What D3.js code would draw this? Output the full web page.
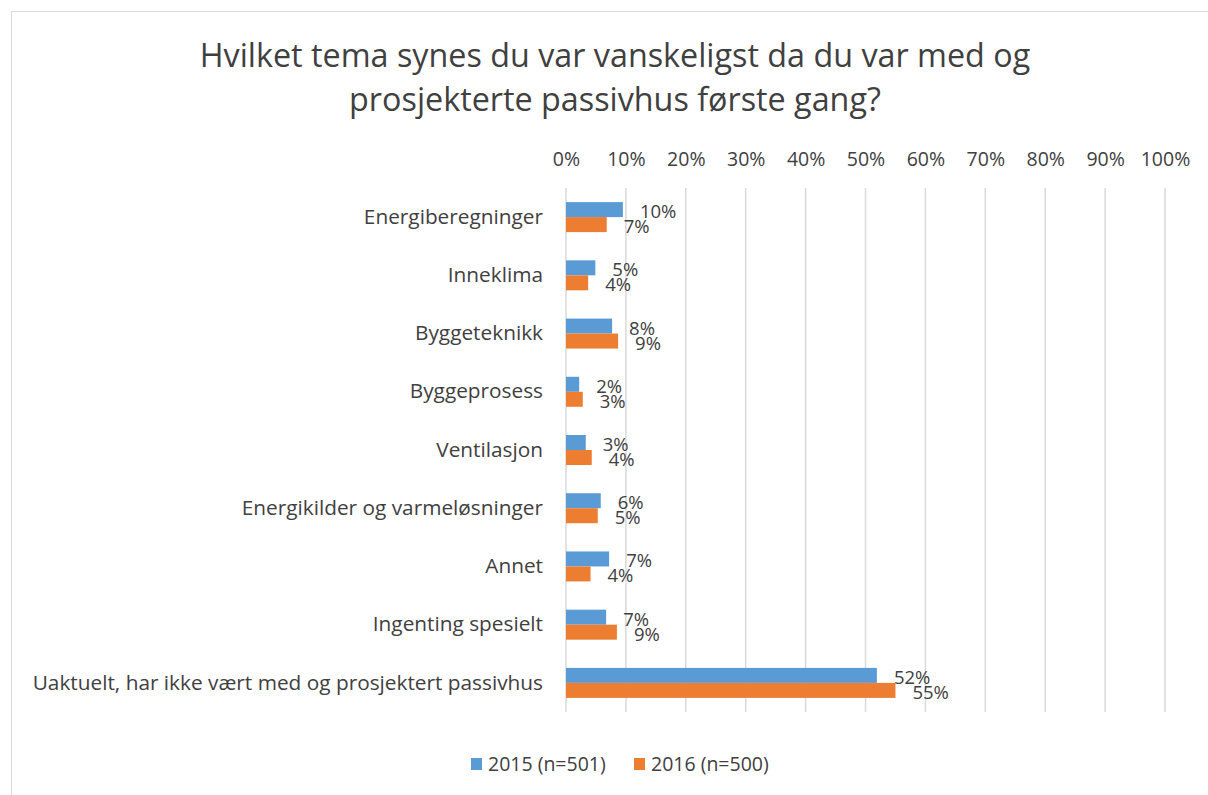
<!DOCTYPE html>
<html>
<head>
<meta charset="utf-8">
<script src="https://cdn.jsdelivr.net/npm/d3@7"></script>
<style>
  body { margin: 0; background: #fff; }
  text { font-family: "Open Sans", sans-serif; fill: #404040; }
</style>
</head>
<body>
<div id="chart"></div>
<script>
const width = 1208;
const height = 795;

const categories = [
  "Energiberegninger",
  "Inneklima",
  "Byggeteknikk",
  "Byggeprosess",
  "Ventilasjon",
  "Energikilder og varmeløsninger",
  "Annet",
  "Ingenting spesielt",
  "Uaktuelt, har ikke vært med og prosjektert passivhus"
];
const values2015 = [9.5, 4.9, 7.7, 2.2, 3.3, 5.8, 7.2, 6.7, 51.9];
const values2016 = [6.8, 3.7, 8.7, 2.8, 4.3, 5.3, 4.1, 8.5, 55.0];
const labels2015 = ["10%", "5%", "8%", "2%", "3%", "6%", "7%", "7%", "52%"];
const labels2016 = ["7%", "4%", "9%", "3%", "4%", "5%", "4%", "9%", "55%"];
const seriesNames = ["2015 (n=501)", "2016 (n=500)"];
const colors = ["#5b9bd5", "#ed7d31"];
const tickValues = [0, 10, 20, 30, 40, 50, 60, 70, 80, 90, 100];

const svg = d3.select("#chart").append("svg")
  .attr("width", width)
  .attr("height", height);

// chart frame
svg.append("rect")
  .attr("x", 11.5).attr("y", 11.5)
  .attr("width", 1220).attr("height", 820)
  .attr("fill", "#fff")
  .attr("stroke", "#d9d9d9");

// title
const title = svg.append("text")
  .attr("text-anchor", "middle")
  .attr("font-size", 32.3);
title.append("tspan").attr("x", 615).attr("y", 67)
  .text("Hvilket tema synes du var vanskeligst da du var med og");
title.append("tspan").attr("x", 615).attr("y", 111)
  .text("prosjekterte passivhus første gang?");

const x = d3.scaleLinear().domain([0, 100]).range([566, 1165]);
const y = d3.scaleBand().domain(categories).range([188, 712])
  .paddingInner(0.485).paddingOuter(0.2425);
const sub = d3.scaleBand().domain([0, 1]).range([0, y.bandwidth()]);

// gridlines
svg.append("g")
  .selectAll("line")
  .data(tickValues)
  .join("line")
  .attr("x1", d => x(d)).attr("x2", d => x(d))
  .attr("y1", 188).attr("y2", 712)
  .attr("stroke", "#d9d9d9")
  .attr("stroke-width", 1.5);

// top axis
const axis = svg.append("g")
  .attr("transform", "translate(0,166)")
  .call(d3.axisTop(x).tickValues(tickValues).tickFormat(d => d + "%").tickSize(0).tickPadding(0));
axis.select(".domain").remove();
axis.selectAll("text")
  .attr("font-size", 19.5)
  .attr("font-family", "'Open Sans', sans-serif")
  .attr("fill", "#404040");

// category labels
const yAxis = svg.append("g")
  .attr("transform", "translate(543,0)")
  .call(d3.axisLeft(y).tickSize(0).tickPadding(0));
yAxis.select(".domain").remove();
yAxis.selectAll("text")
  .attr("font-size", 20.8)
  .attr("font-family", "'Open Sans', sans-serif")
  .attr("fill", "#404040");

const rows = categories.map((c, i) => ({
  cat: c,
  vals: [values2015[i], values2016[i]],
  labs: [labels2015[i], labels2016[i]]
}));

const groups = svg.append("g")
  .selectAll("g")
  .data(rows)
  .join("g")
  .attr("transform", d => `translate(0,${y(d.cat)})`);

groups.selectAll("rect")
  .data(d => d.vals.map((v, k) => ({ v, k })))
  .join("rect")
  .attr("x", x(0))
  .attr("y", d => sub(d.k))
  .attr("width", d => x(d.v) - x(0))
  .attr("height", sub.bandwidth())
  .attr("fill", d => colors[d.k]);

groups.selectAll("text.lab")
  .data(d => d.vals.map((v, k) => ({ v, k, t: d.labs[k] })))
  .join("text")
  .attr("class", "lab")
  .attr("x", d => x(d.v) + 17)
  .attr("y", d => sub(d.k) + sub.bandwidth() / 2 + 2)
  .attr("dy", "0.35em")
  .attr("font-size", 18.5)
  .text(d => d.t);

// legend
const legend = svg.append("g")
  .selectAll("g")
  .data(seriesNames)
  .join("g")
  .attr("transform", (d, i) => `translate(${[471, 634][i]},758)`);
legend.append("rect")
  .attr("width", 11).attr("height", 12)
  .attr("fill", (d, i) => colors[i]);
legend.append("text")
  .attr("x", 17).attr("y", 6)
  .attr("dy", "0.35em")
  .attr("font-size", 19.5)
  .text(d => d);
</script>
</body>
</html>
